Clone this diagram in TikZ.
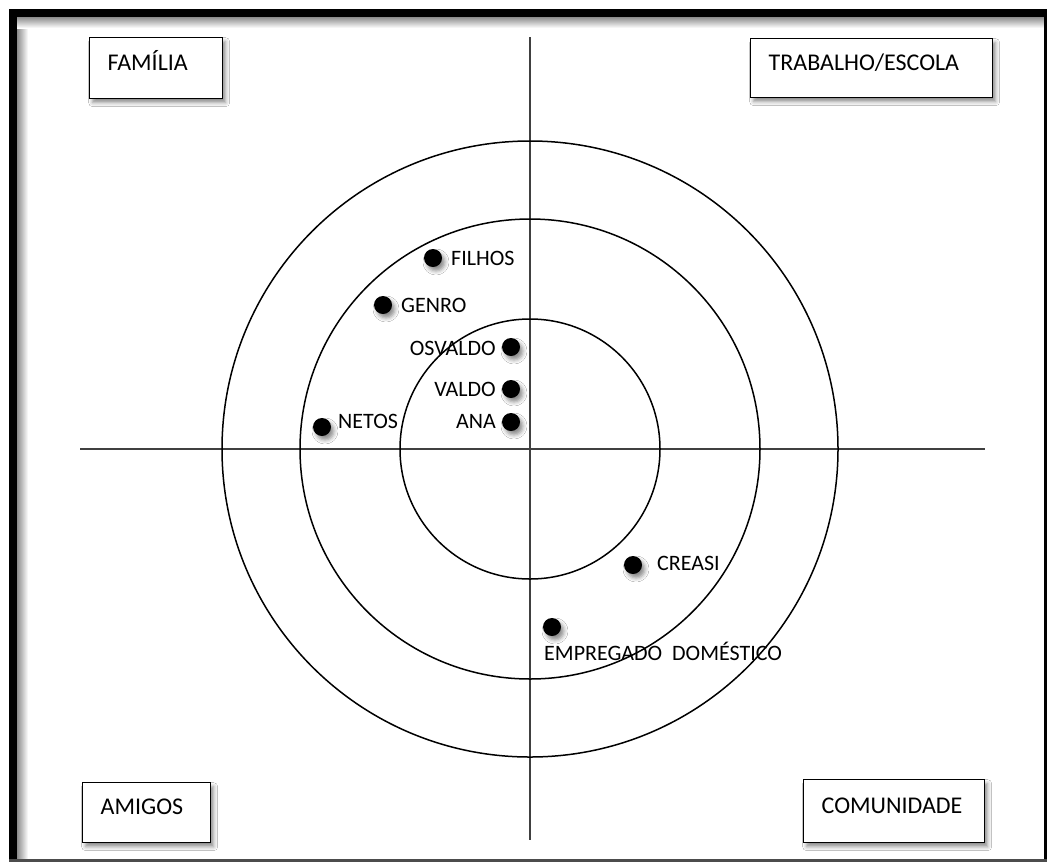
\documentclass[tikz,border=0pt]{standalone}
\usepackage{fontspec}
\setmainfont{Carlito}
\usetikzlibrary{shadows.blur}
\tikzset{
  sh/.style={blur shadow={shadow xshift=3pt, shadow yshift=-4pt, shadow blur radius=4pt, shadow opacity=45}},
  qbox/.style={draw=black, line width=1.3pt, fill=white, sh, anchor=north west, align=left,
    inner xsep=18pt, inner ysep=2pt, text height=15pt, text depth=11pt, font=\fontsize{24}{28}\selectfont},
  dot/.style={circle, fill=black, minimum size=18pt, inner sep=0pt, sh},
  lbl/.style={inner sep=0pt, text height=14pt, text depth=0pt, font=\fontsize{22}{26}\selectfont},
  ring/.style={draw=black, line width=1.5pt},
  axis/.style={draw=black!75, line width=1.1pt}
}
\begin{document}
\begin{tikzpicture}[x=1pt, y=-1pt]
\useasboundingbox (0,0) rectangle (1048,863);
% frame
\fill[white] (0,0) rectangle (1048,863);
\shade[left color=black!45, right color=white] (17,17) rectangle (28,859);
\shade[top color=black!45, bottom color=white] (17,17) rectangle (1044,28);
\fill[black] (9,9) rectangle (17,862);
\fill[black] (9,9) rectangle (1047,17);
\fill[black] (1044,9) rectangle (1047,862);
\fill[black!70] (9,859) rectangle (1047,862);
% axes
\coordinate (vt) at (530,37);
\coordinate (vb) at (530,840);
\coordinate (hl) at (80,449);
\coordinate (hr) at (985,449);
\draw[axis] (vt) -- (vb);
\draw[axis] (hl) -- (hr);
% rings
\coordinate (c) at (530,449);
\draw[ring] (c) circle[radius=130];
\draw[ring] (c) circle[radius=230];
\draw[ring] (c) circle[radius=308];
% quadrant boxes
\node[qbox, minimum width=133pt, minimum height=61pt, text width=97pt] (fam) at (89,37) {FAMÍLIA};
\node[qbox, minimum width=242pt, minimum height=59pt, text width=206pt] (trab) at (750,38) {TRABALHO/ESCOLA};
\node[qbox, minimum width=128pt, minimum height=60pt, text width=92pt] (amig) at (82,782) {AMIGOS};
\node[qbox, minimum width=181pt, minimum height=63pt, text width=145pt] (comu) at (803,779) {COMUNIDADE};
% dots
\node[dot] (filhos) at (433,258) {};
\node[dot] (genro) at (383,305) {};
\node[dot] (osvaldo) at (511,347) {};
\node[dot] (valdo) at (511,389) {};
\node[dot] (ana) at (511,422) {};
\node[dot] (netos) at (322,427) {};
\node[dot] (creasi) at (633,565) {};
\node[dot] (empreg) at (552,627) {};
% labels
\node[lbl, anchor=west] (tfilhos) at (451,258) {FILHOS};
\node[lbl, anchor=west] (tgenro) at (401,305) {GENRO};
\node[lbl, anchor=east] (tosvaldo) at (496,348) {OSVALDO};
\node[lbl, anchor=east] (tvaldo) at (496,389) {VALDO};
\node[lbl, anchor=east] (tana) at (496,421) {ANA};
\node[lbl, anchor=west] (tnetos) at (338,421) {NETOS};
\node[lbl, anchor=west] (tcreasi) at (657,563) {CREASI};
\node[lbl, anchor=west] (tempreg) at (544,653) {EMPREGADO\hspace{0.45em}DOMÉSTICO};
\end{tikzpicture}
\end{document}
